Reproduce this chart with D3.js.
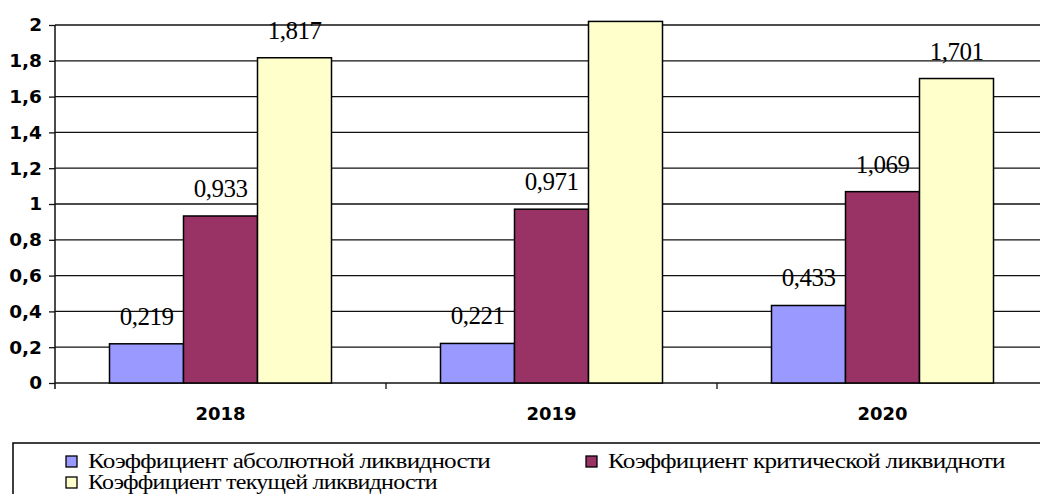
<!DOCTYPE html>
<html>
<head>
<meta charset="utf-8">
<script src="https://cdn.jsdelivr.net/npm/d3@7"></script>
<style>
  body { margin: 0; background: #fff; }
  svg { display: block; }
  .serif { font-family: "Liberation Serif", "Times New Roman", serif; }
</style>
</head>
<body>
<div class="container"></div>
<script>
const years = ["2018", "2019", "2020"]
const seriesNames = ["Коэффициент абсолютной ликвидности", "Коэффициент критической ликвидноти", "Коэффициент текущей ликвидности"]
const absoluteRatio = [0.219, 0.221, 0.433]
const criticalRatio = [0.933, 0.971, 1.069]
const currentRatio = [1.817, 2.02, 1.701]
const yTicks = [0, 0.2, 0.4, 0.6, 0.8, 1, 1.2, 1.4, 1.6, 1.8, 2]
const colors = ["#9999FF", "#993366", "#FFFFCC"]

const w = 1040
const h = 494
const yMax = 2

const series = [absoluteRatio, criticalRatio, currentRatio]
const bars = []
series.forEach((vals, s) => vals.forEach((v, i) => bars.push({ year: years[i], s: s, v: v })))

const xScale = d3.scaleBand().domain(years).range([55, 1048])
const xInner = d3.scaleBand().domain([0, 1, 2]).range([54.5, 276.5])
const yScale = d3.scaleLinear().domain([0, yMax]).range([383, 25])

const fmt = (d) => String(+d.toFixed(3)).replace(".", ",")

const svg = d3.select(".container")
  .append("svg")
  .attr("width", w)
  .attr("height", h)

// gridlines
svg.append("g")
  .selectAll("line")
  .data(yTicks)
  .enter()
  .append("line")
  .attr("x1", 55)
  .attr("x2", w)
  .attr("y1", (d) => yScale(d))
  .attr("y2", (d) => yScale(d))
  .attr("stroke", "#111")
  .attr("stroke-width", 1.3)

// y axis
const yAxis = d3.axisLeft(yScale).tickValues(yTicks).tickSize(6).tickPadding(7).tickFormat(fmt)
const yg = svg.append("g")
  .attr("transform", "translate(55,0)")
  .call(yAxis)
yg.select(".domain").remove()
yg.selectAll(".tick line").attr("stroke", "#111").attr("stroke-width", 1.3)
yg.selectAll(".tick text")
  .attr("fill", "#000")
  .style("font-family", "'DejaVu Sans', sans-serif")
  .style("font-weight", "bold")
  .style("font-size", "18.5px")
svg.append("line")
  .attr("x1", 55).attr("x2", 55)
  .attr("y1", yScale(yMax)).attr("y2", 389)
  .attr("stroke", "#111").attr("stroke-width", 1.5)

// category tick marks at band boundaries
svg.append("g")
  .selectAll("line")
  .data(years.slice(1))
  .enter()
  .append("line")
  .attr("x1", (d) => xScale(d))
  .attr("x2", (d) => xScale(d))
  .attr("y1", 383)
  .attr("y2", 389)
  .attr("stroke", "#111")
  .attr("stroke-width", 1.3)

svg.append("g")
  .selectAll("text")
  .data(years)
  .enter()
  .append("text")
  .attr("x", (d) => xScale(d) + xScale.bandwidth() / 2)
  .attr("y", 420)
  .attr("text-anchor", "middle")
  .style("font-family", "'DejaVu Sans', sans-serif")
  .style("font-weight", "bold")
  .style("font-size", "18px")
  .text((d) => d)

// bars
svg.append("g")
  .selectAll("rect")
  .data(bars)
  .enter()
  .append("rect")
  .attr("x", (d) => xScale(d.year) + xInner(d.s))
  .attr("y", (d) => yScale(d.v))
  .attr("width", xInner.bandwidth())
  .attr("height", (d) => yScale(0) - yScale(d.v))
  .attr("fill", (d) => colors[d.s])
  .attr("stroke", "#000")
  .attr("stroke-width", 1.5)

// data labels (the one above the axis max is cut off in the original)
svg.append("g")
  .selectAll("text")
  .data(bars.filter((d) => d.v <= yMax))
  .enter()
  .append("text")
  .attr("class", "serif")
  .attr("x", (d) => xScale(d.year) + xInner(d.s) + xInner.bandwidth() / 2)
  .attr("y", (d) => yScale(d.v) - 19)
  .attr("text-anchor", "middle")
  .style("font-size", "25px")
  .style("letter-spacing", "-0.5px")
  .text((d) => fmt(d.v))

// legend
const legend = svg.append("g")
legend.append("rect")
  .attr("x", 13)
  .attr("y", 443)
  .attr("width", w)
  .attr("height", 80)
  .attr("fill", "none")
  .attr("stroke", "#000")
  .attr("stroke-width", 1.5)

const legendItems = [
  { x: 66, y: 456, tx: 88, ty: 468, len: 402 },
  { x: 586, y: 456, tx: 608, ty: 468, len: 397 },
  { x: 66, y: 477, tx: 88, ty: 489, len: 349 }
]
legendItems.forEach((it, i) => {
  legend.append("rect")
    .attr("x", it.x)
    .attr("y", it.y)
    .attr("width", 11)
    .attr("height", 11)
    .attr("fill", colors[i])
    .attr("stroke", "#000")
    .attr("stroke-width", 1.3)
  const t = legend.append("text")
    .attr("class", "serif")
    .style("font-size", "20px")
    .style("letter-spacing", "-0.6px")
    .text(seriesNames[i])
  // the original legend font is stretched wide, so scale each label to its width
  const k = it.len / t.node().getComputedTextLength()
  t.attr("transform", "translate(" + it.tx + "," + it.ty + ") scale(" + k + ",1)")
})
</script>
</body>
</html>
